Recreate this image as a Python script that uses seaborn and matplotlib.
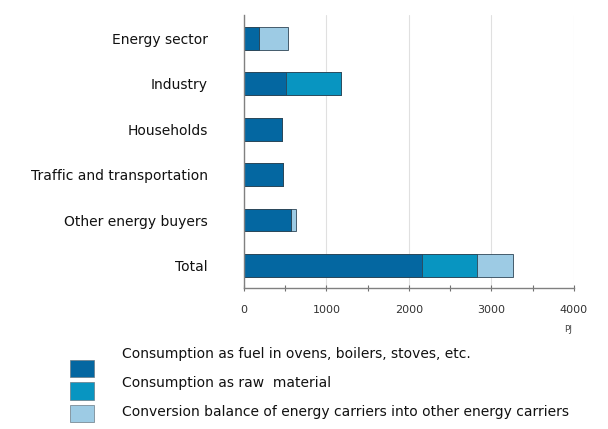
import numpy as np
import pandas as pd
import matplotlib.pyplot as plt
from matplotlib.patches import Patch
from matplotlib.ticker import MultipleLocator
import seaborn as sns

sectors = ['Energy sector', 'Industry', 'Households',
           'Traffic and transportation', 'Other energy buyers', 'Total']
fuel = [185, 517, 457, 477, 566, 2162]
raw_material = [0, 659, 0, 0, 0, 658]
conversion = [356, 0, 0, 0, 68, 437]
legend_labels = ['Consumption as fuel in ovens, boilers, stoves, etc.',
                 'Consumption as raw  material',
                 'Conversion balance of energy carriers into other energy carriers']
colors = ['#0467a1', '#0895c1', '#9dcbe4']

sns.set_style('white')
plt.rcParams['font.family'] = ['DejaVu Sans']

df = pd.DataFrame({'sector': sectors, 'fuel': fuel,
                   'raw': raw_material, 'conv': conversion})
df['c1'] = df['fuel']
df['c2'] = df['fuel'] + df['raw']
df['c3'] = df['c2'] + df['conv']

fig = plt.figure(figsize=(6.08, 4.29), dpi=100)
ax = fig.add_axes([0.401, 0.329, 0.543, 0.636])

# stacked bars drawn as cumulative totals, back to front
for col, c in zip(['c3', 'c2', 'c1'], colors[::-1]):
    sns.barplot(data=df, x=col, y='sector', color=c, width=0.5, saturation=1,
                edgecolor='#2f4656', linewidth=0.6, ax=ax, orient='h')

ax.set_xlim(0, 4000)
ax.set_ylim(5.49, -0.51)
ax.xaxis.set_major_locator(MultipleLocator(1000))
ax.xaxis.set_minor_locator(MultipleLocator(500))
ax.grid(axis='x', which='major', color='#e0e0e0', linewidth=0.8)
ax.set_axisbelow(True)
ax.tick_params(axis='x', which='both', bottom=True, direction='inout',
               length=5, width=0.8, color='#707070', labelsize=8,
               labelcolor='#333333', pad=10)
ax.tick_params(axis='y', length=0, labelsize=10, pad=26)
for lab in ax.get_yticklabels():
    lab.set_color('#111111')
ax.set_xlabel('')
ax.set_ylabel('')
for s in ['top', 'right']:
    ax.spines[s].set_visible(False)
for s in ['left', 'bottom']:
    ax.spines[s].set_color('#808080')
    ax.spines[s].set_linewidth(1.0)
ax.text(3930, -0.135, 'PJ', transform=ax.get_xaxis_transform(),
        ha='center', va='top', fontsize=6.5, color='#444444')

# legend swatches; the texts sit a little apart from them as in the source
handles = [Patch(facecolor=c, edgecolor='#6a7a85', linewidth=0.5) for c in colors]
fig.legend(handles, ['', '', ''], loc='upper left',
           bbox_to_anchor=(0.115, 0.161), frameon=False,
           handlelength=1.9, handleheight=1.74, handletextpad=0,
           labelspacing=0.42, borderaxespad=0, borderpad=0, fontsize=9)
for i, lab in enumerate(legend_labels):
    fig.text(0.2, 1 - (354 + 29 * i) / 429, lab, fontsize=10,
             color='#111111', va='center', ha='left')

fig.savefig('out.png', dpi=100)
